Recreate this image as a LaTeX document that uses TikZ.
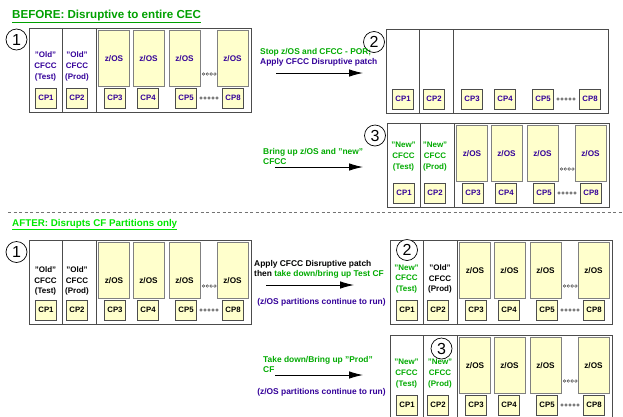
\documentclass[tikz,border=0pt]{standalone}
\usepackage{fontspec}
\setmainfont{Liberation Sans}
\usetikzlibrary{arrows.meta,positioning}
\definecolor{ibm_purple}{RGB}{51,0,153}
\definecolor{ibm_green}{RGB}{0,170,0}
\definecolor{before_green}{RGB}{0,160,0}
\definecolor{after_green}{RGB}{0,230,0}
\definecolor{lpar_yellow}{RGB}{255,255,204}

\begin{document}
\begin{tikzpicture}[x=1pt, y=-1pt, font=\bfseries,
      cec/.style={draw=black!70, line width=0.8pt},
      zos/.style={draw=black!50, fill=lpar_yellow, minimum width=31pt, minimum height=56pt,
                  inner sep=0pt, text depth=0pt, font=\fontsize{8.2}{9}\bfseries},
      cp/.style={draw=black!70, fill=lpar_yellow, minimum width=21pt, minimum height=20pt,
                 inner sep=0pt, font=\fontsize{7.8}{9}\bfseries},
      cfcc/.style={align=center, inner sep=0pt, font=\fontsize{8}{10.8}\bfseries},
      stepnum/.style={circle, draw, fill=white, line width=0.7pt, minimum size=21pt,
                      inner sep=0pt, font=\fontsize{16}{16}\selectfont\mdseries},
      note/.style={anchor=north west, align=left, inner sep=0pt, font=\fontsize{8.4}{10}\bfseries},
      runnote/.style={inner sep=0pt, text=ibm_purple, font=\fontsize{8.4}{10}\bfseries},
      title/.style={anchor=base west, inner sep=0pt},
      stepline/.style={line width=0.9pt, -{Latex[length=14pt, width=7.5pt]}},
      dots/.style={draw=black!70, line width=0.5pt, fill=white}]
  \useasboundingbox (0,0) rectangle (623,416);
  \clip (0,0) rectangle (623,416);

  % titles and separator
  \node[title, text=before_green, font=\fontsize{11.6}{12}\bfseries] (before) at (12,18)
    {\underline{BEFORE: Disruptive to entire CEC}};
  \coordinate (sep-l) at (8,212);
  \coordinate (sep-r) at (623,212);
  \draw[black!55, line width=0.8pt, dash pattern=on 3pt off 2.5pt] (sep-l) -- (sep-r);
  \node[title, text=after_green, font=\fontsize{9.8}{12}\bfseries] (after) at (12,226)
    {\underline{AFTER: Disrupts CF Partitions only}};

  % CEC frames with the CP row
  \foreach \p/\px/\py/\tc in {b1/29/28/ibm_purple, b2/386/29/ibm_purple, b3/387/123/ibm_purple,
                              a1/29/240/black, a2/390/240/black, a3/390/335/black}{
    \begin{scope}[shift={(\px,\py)}]
      \draw[cec] (0,0) rectangle (222,84) (33,0) -- (33,84) (67,0) -- (67,84);
      \foreach \n/\cx in {1/17, 2/48, 3/86, 4/119, 5/157, 8/204}
        \node[cp, text=\tc] (\p-cp\n) at (\cx,70) {CP\n};
      \foreach \k in {0,...,4}
        \draw[dots] (172+\k*4,70) circle (1.3pt);
    \end{scope}
  }

  % z/OS partitions
  \foreach \p/\px/\py/\tc/\zh in {b1/29/28/ibm_purple/6, b3/387/123/ibm_purple/6,
                                  a1/29/240/black/26, a2/390/240/black/6, a3/390/335/black/6}{
    \begin{scope}[shift={(\px,\py)}]
      \foreach \n/\cx in {3/85, 4/119.5, 5/155.5, 8/203.5}
        \node[zos, text=\tc, text height=\zh pt] (\p-zos\n) at (\cx,30) {z/OS};
      \foreach \k in {0,...,3}
        \draw[dots] (174.5+\k*3.8,46) circle (1.3pt);
    \end{scope}
  }

  % CF partitions
  \node[cfcc, text=ibm_purple] (b1-cf1) at (45.5,66.5) {"Old"\\CFCC\\(Test)};
  \node[cfcc, text=ibm_purple] (b1-cf2) at (77,66.5) {"Old"\\CFCC\\(Prod)};
  \node[cfcc, text=ibm_green] (b3-cf1) at (403.5,156.5) {"New"\\CFCC\\(Test)};
  \node[cfcc, text=ibm_green] (b3-cf2) at (435,156.5) {"New"\\CFCC\\(Prod)};
  \node[cfcc] (a1-cf1) at (45.5,281) {"Old"\\CFCC\\(Test)};
  \node[cfcc] (a1-cf2) at (77,281) {"Old"\\CFCC\\(Prod)};
  \node[cfcc, text=ibm_green] (a2-cf1) at (406.5,279) {"New"\\CFCC\\(Test)};
  \node[cfcc] (a2-cf2) at (440,279) {"Old"\\CFCC\\(Prod)};
  \node[cfcc, text=ibm_green] (a3-cf1) at (406.5,373.5) {"New"\\CFCC\\(Test)};
  \node[cfcc, text=ibm_green] (a3-cf2) at (440,373.5) {"New"\\CFCC\\(Prod)};

  % step numbers
  \node[stepnum] (b1-num) at (16.5,39.5) {1};
  \node[stepnum] (b2-num) at (374,42) {2};
  \node[stepnum] (b3-num) at (375,135.5) {3};
  \node[stepnum] (a1-num) at (16.5,252) {1};
  \node[stepnum] (a2-num) at (407,250) {2};
  \node[stepnum] (a3-num) at (441.5,348.5) {3};

  % steps between the CECs
  \node[note] (b2-note) at (260,48.5)
    {\textcolor{ibm_green}{Stop z/OS and CFCC - POR;}\\\textcolor{ibm_purple}{Apply CFCC Disruptive patch}};
  \coordinate (b2-from) at (276,73);
  \coordinate (b2-to) at (363,73);
  \draw[stepline] (b2-from) -- (b2-to);

  \node[note, text=ibm_green] (b3-note) at (263,148.5) {Bring up z/OS and "new"\\CFCC};
  \coordinate (b3-from) at (275,167);
  \coordinate (b3-to) at (363,167);
  \draw[stepline] (b3-from) -- (b3-to);

  \node[note] (a2-note) at (254,260.5)
    {Apply CFCC Disruptive patch\\then \textcolor{ibm_green}{take down/bring up Test CF}};
  \coordinate (a2-from) at (266,285);
  \coordinate (a2-to) at (354,285);
  \draw[stepline] (a2-from) -- (a2-to);
  \node[runnote] (a2-run) at (321.5,302) {(z/OS partitions continue to run)};

  \node[note, text=ibm_green] (a3-note) at (263,356.5) {Take down/Bring up "Prod"\\CF};
  \coordinate (a3-from) at (275,375);
  \coordinate (a3-to) at (363,375);
  \draw[stepline] (a3-from) -- (a3-to);
  \node[runnote] (a3-run) at (321.5,392) {(z/OS partitions continue to run)};
\end{tikzpicture}
\end{document}
